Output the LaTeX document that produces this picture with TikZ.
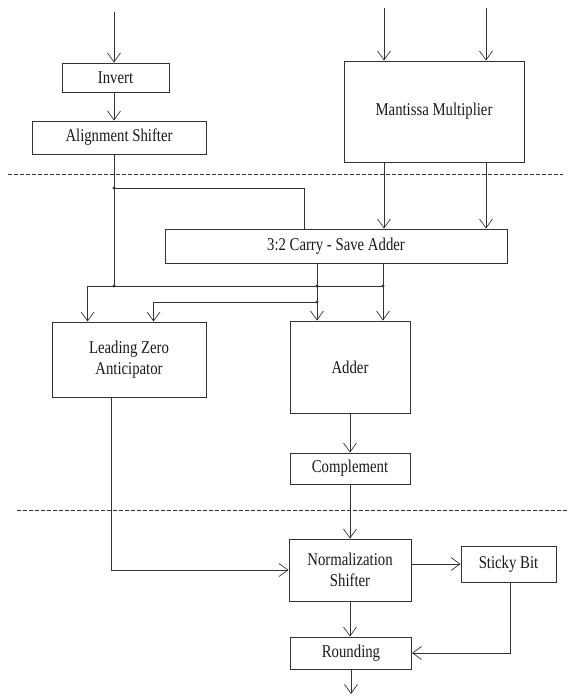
\documentclass[tikz,border=0pt]{standalone}
\usepackage{fontspec}
\setmainfont{Liberation Serif}
\newfontfamily\blkfont[FakeStretch=0.82]{Liberation Serif}
\usetikzlibrary{arrows.meta}
\tikzset{
  blk/.style={draw=black!80, line width=0.9pt, inner sep=2pt, align=center,
    text=black!90, font=\blkfont\fontsize{18}{21}\selectfont},
  wire/.style={draw=black!80, line width=0.9pt},
  flow/.style={wire, -{Straight Barb[length=9pt,width=13pt,line width=0.7pt]}},
  stagesep/.style={draw=black!80, line width=0.8pt, dash pattern=on 4pt off 2pt}
}
\begin{document}
\begin{tikzpicture}[x=1pt,y=-1pt]
  \useasboundingbox (0,0) rectangle (569,696);
  % pipeline stage borders
  \draw[stagesep] (8,174) -- (563,174);
  \draw[stagesep] (17,510) -- (569,510);
  % blocks
  \node[blk, minimum width=107pt, minimum height=29pt] (invert) at (115.5,77.5) {Invert};
  \node[blk, minimum width=174pt, minimum height=33pt] (align) at (119,137.5) {Alignment Shifter};
  \node[blk, minimum width=180pt, minimum height=101pt] (mult) at (434,111.5) {Mantissa Multiplier};
  \node[blk, minimum width=342pt, minimum height=34pt] (csa) at (336,246) {3:2 Carry - Save Adder};
  \node[blk, minimum width=154pt, minimum height=75pt] (lza) at (129,359.5) {Leading Zero\\Anticipator};
  \node[blk, minimum width=120pt, minimum height=92pt] (adder) at (350,367) {Adder};
  \node[blk, minimum width=120pt, minimum height=31pt] (compl) at (350,468.5) {Complement};
  \node[blk, minimum width=122pt, minimum height=62pt] (norm) at (350,570) {Normalization\\Shifter};
  \node[blk, minimum width=95pt, minimum height=36pt] (sticky) at (508.5,564) {Sticky Bit};
  \node[blk, minimum width=121pt, minimum height=32pt] (round) at (351,653) {Rounding};
  % inputs, junctions, output
  \coordinate (in1) at (114,12);
  \coordinate (in2) at (384,8);
  \coordinate (in3) at (486,8);
  \coordinate (j1) at (114,188);
  \coordinate (j2) at (114,286);
  \coordinate (j3) at (317,286);
  \coordinate (j4) at (383,286);
  \coordinate (j5) at (317,302);
  \coordinate (out) at (351,694);
  % exponent / alignment path
  \draw[flow] (in1) -- (in1 |- invert.north);
  \draw[flow] (in1 |- invert.south) -- (in1 |- align.north);
  \draw[wire] (in1 |- align.south) -- (j2);
  \draw[wire] (j1) -| ([xshift=140pt]csa.north west);
  % multiplier
  \draw[flow] (in2) -- (in2 |- mult.north);
  \draw[flow] (in3) -- (in3 |- mult.north);
  \draw[flow] (in2 |- mult.south) -- (in2 |- csa.north);
  \draw[flow] (in3 |- mult.south) -- (in3 |- csa.north);
  % carry-save outputs
  \draw[flow] (j3 |- csa.south) -- (j3 |- adder.north);
  \draw[flow] (j4 |- csa.south) -- (j4 |- adder.north);
  \draw[flow] (j4) -| ([xshift=36pt]lza.north west);
  \draw[flow] (j5) -| ([xshift=102pt]lza.north west);
  \foreach \p in {j1,j2,j3,j4,j5}
    \fill[black!80] (\p) circle (1.7pt);
  % adder path
  \draw[flow] (adder) -- (compl);
  \draw[flow] (compl) -- (norm);
  \draw[flow] ([xshift=60pt]lza.south west) |- (norm.west);
  \draw[flow] (norm.east |- sticky.west) -- (sticky.west);
  \draw[flow] (norm.south) -- (norm.south |- round.north);
  \draw[flow] ([xshift=1.5pt]sticky.south) |- (round.east);
  \draw[flow] (round.south) -- (out);
\end{tikzpicture}
\end{document}
